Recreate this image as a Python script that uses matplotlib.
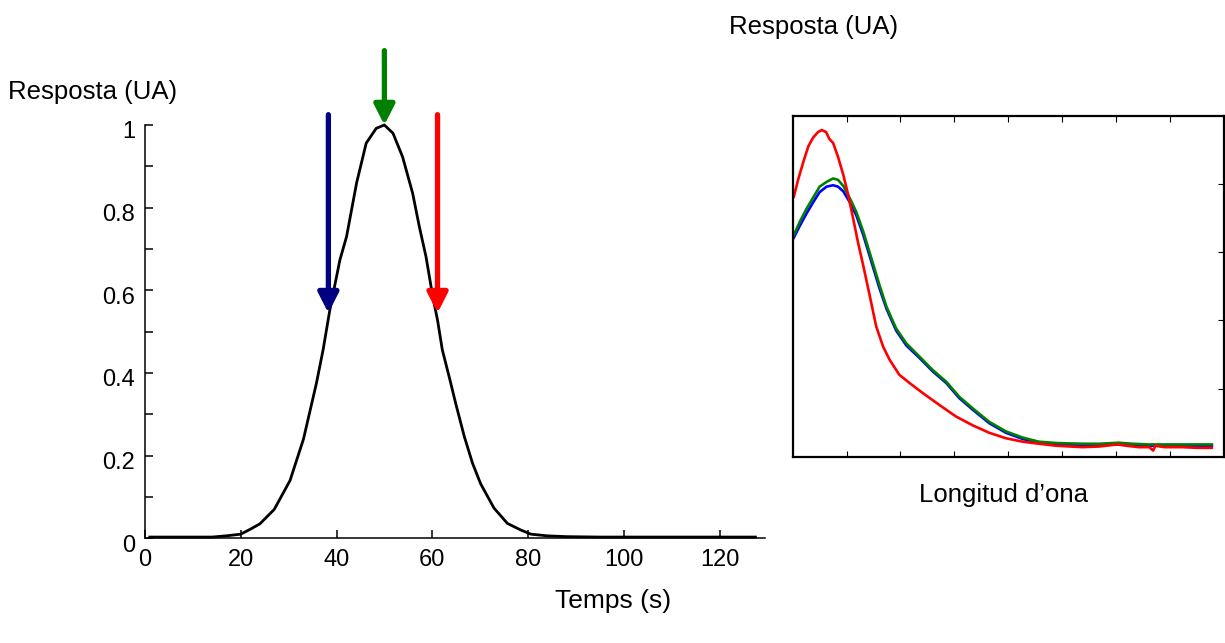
import matplotlib
matplotlib.use("Agg")
from matplotlib import pyplot as plt
from matplotlib.transforms import ScaledTranslation

plt.rcParams['font.family'] = ['Liberation Sans', 'DejaVu Sans']

# chromatogram (left panel)
temps = [1, 5, 10, 14, 17, 20, 22, 24, 27, 30.3, 33.1, 35.8, 37.2, 38.6, 40.7, 42.1, 44.2,
         46.2, 48.3, 50, 51.8, 53.8, 55.9, 57.3, 58.7, 60.1, 61.1, 62.1, 63.7, 64.9, 66.7,
         68.4, 70.1, 72.9, 75.7, 78.5, 80.6, 84, 88, 95, 105, 115, 127.5]
resposta = [0.003, 0.003, 0.003, 0.003, 0.006, 0.01, 0.022, 0.035, 0.07, 0.14, 0.24, 0.375,
            0.456, 0.552, 0.673, 0.73, 0.86, 0.956, 0.992, 1.0, 0.98, 0.923, 0.835, 0.754,
            0.681, 0.585, 0.528, 0.456, 0.383, 0.326, 0.246, 0.182, 0.132, 0.073, 0.036,
            0.020, 0.010, 0.006, 0.004, 0.003, 0.003, 0.003, 0.003]

# arrows marking the moments where spectra were taken
arrow_t = [38.3, 50.0, 61.1]
arrow_top = [1.025, 1.18, 1.025]
arrow_tip = [0.545, 1.0, 0.545]
arrow_col = ['#000080', '#008000', '#ff0000']

# spectra (right panel)
red_x = [0.02, 0.10, 0.20, 0.29, 0.38, 0.47, 0.54, 0.62, 0.68, 0.75, 0.84, 0.94, 1.03, 1.12,
         1.21, 1.31, 1.43, 1.55, 1.68, 1.80, 1.98, 2.17, 2.42, 2.72, 3.03, 3.34, 3.65, 3.96,
         4.27, 4.57, 4.90, 5.38, 5.70, 6.02, 6.20, 6.42, 6.62, 6.69, 6.73, 6.90, 7.23, 7.50, 7.78]
red_y = [3.81, 4.06, 4.33, 4.55, 4.68, 4.76, 4.79, 4.76, 4.66, 4.60, 4.40, 4.13, 3.84, 3.50,
         3.15, 2.80, 2.36, 1.91, 1.61, 1.42, 1.20, 1.08, 0.93, 0.76, 0.59, 0.46, 0.35, 0.27,
         0.22, 0.19, 0.16, 0.14, 0.15, 0.18, 0.16, 0.14, 0.14, 0.09, 0.16, 0.14, 0.14, 0.13, 0.13]

gb_x = [0.02, 0.135, 0.26, 0.38, 0.50, 0.63, 0.75, 0.84, 0.94, 1.06, 1.18, 1.31, 1.46, 1.61,
        1.74, 1.92, 2.11, 2.35, 2.60, 2.85, 3.09, 3.34, 3.65, 3.96, 4.27, 4.57, 4.90, 5.38,
        5.70, 6.05, 6.30, 6.60, 7.00, 7.40, 7.78]
green_y = [3.25, 3.45, 3.64, 3.80, 3.96, 4.03, 4.08, 4.06, 3.97, 3.79, 3.59, 3.30, 2.91, 2.52,
           2.20, 1.88, 1.66, 1.47, 1.27, 1.10, 0.88, 0.71, 0.51, 0.37, 0.28, 0.22, 0.20, 0.19,
           0.19, 0.205, 0.19, 0.18, 0.18, 0.18, 0.18]
blue_y = [3.21, 3.39, 3.57, 3.73, 3.88, 3.96, 3.98, 3.96, 3.89, 3.73, 3.54, 3.25, 2.86, 2.47,
          2.17, 1.85, 1.63, 1.45, 1.25, 1.08, 0.86, 0.69, 0.49, 0.35, 0.26, 0.20, 0.18, 0.17,
          0.17, 0.18, 0.17, 0.16, 0.17, 0.16, 0.16]

W, H = 1225, 643
fig = plt.figure(figsize=(W / 100, H / 100), dpi=100)

# ---- left: chromatogram
ax = fig.add_axes([145 / W, 1 - 538.3 / H, 620 / W, 413.3 / H])
ax.plot(temps, resposta, 'k-', linewidth=2.0, clip_on=False, zorder=3)
ax.set_xlim(0, 129.5)
ax.set_ylim(0, 1)
ax.spines['top'].set_visible(False)
ax.spines['right'].set_visible(False)
for s in ('left', 'bottom'):
    ax.spines[s].set_linewidth(1.1)
ax.set_xticks([0, 20, 40, 60, 80, 100, 120])
ax.set_yticks([0, 0.2, 0.4, 0.6, 0.8, 1])
ax.set_yticklabels(['0', '0.2', '0.4', '0.6', '0.8', '1'])
ax.set_yticks([0.1, 0.3, 0.5, 0.7, 0.9], minor=True)
ax.tick_params(axis='both', which='both', direction='in', length=6, width=1.1,
               labelsize=17)
ax.tick_params(axis='y', pad=7)
ax.tick_params(axis='x', pad=8)
shift = ScaledTranslation(0, -5 / 100, fig.dpi_scale_trans)
for t in ax.yaxis.get_major_ticks():
    t.label1.set_transform(t.label1.get_transform() + shift)

for xt, top, tip, c in zip(arrow_t, arrow_top, arrow_tip, arrow_col):
    ax.annotate('', xy=(xt, tip), xytext=(xt, top),
                arrowprops=dict(arrowstyle='-|>,head_length=0.55,head_width=0.28',
                                color=c, lw=3.8, shrinkA=0, shrinkB=0,
                                mutation_scale=22),
                annotation_clip=False, zorder=4)

fig.text(8 / W, 1 - 92 / H, 'Resposta (UA)', ha='left', va='center', fontsize=18.5)
fig.text(613 / W, 1 - 601 / H, 'Temps (s)', ha='center', va='center', fontsize=19)

# ---- right: spectra
ax2 = fig.add_axes([792.7 / W, 1 - 456.7 / H, 431 / W, 341 / H])
ax2.plot(gb_x, blue_y, color='#0000ff', linewidth=1.9)
ax2.plot(gb_x, green_y, color='#008000', linewidth=1.9)
ax2.plot(red_x, red_y, color='#ff0000', linewidth=1.9)
ax2.set_xlim(0, 8)
ax2.set_ylim(0, 5)
for s in ax2.spines.values():
    s.set_linewidth(1.6)
ax2.set_xticks([1, 2, 3, 4, 5, 6, 7])
ax2.set_yticks([1, 2, 3, 4])
ax2.tick_params(axis='x', direction='in', top=True, bottom=True, length=4,
                labelbottom=False)
ax2.tick_params(axis='y', direction='in', left=False, right=True, length=4,
                labelleft=False)

fig.text(814 / W, 1 - 27 / H, 'Resposta (UA)', ha='center', va='center', fontsize=18.5)
fig.text(1003 / W, 1 - 495 / H, 'Longitud d\u2019ona', ha='center', va='center',
         fontsize=18.5)

fig.savefig('out.png', dpi=100)
